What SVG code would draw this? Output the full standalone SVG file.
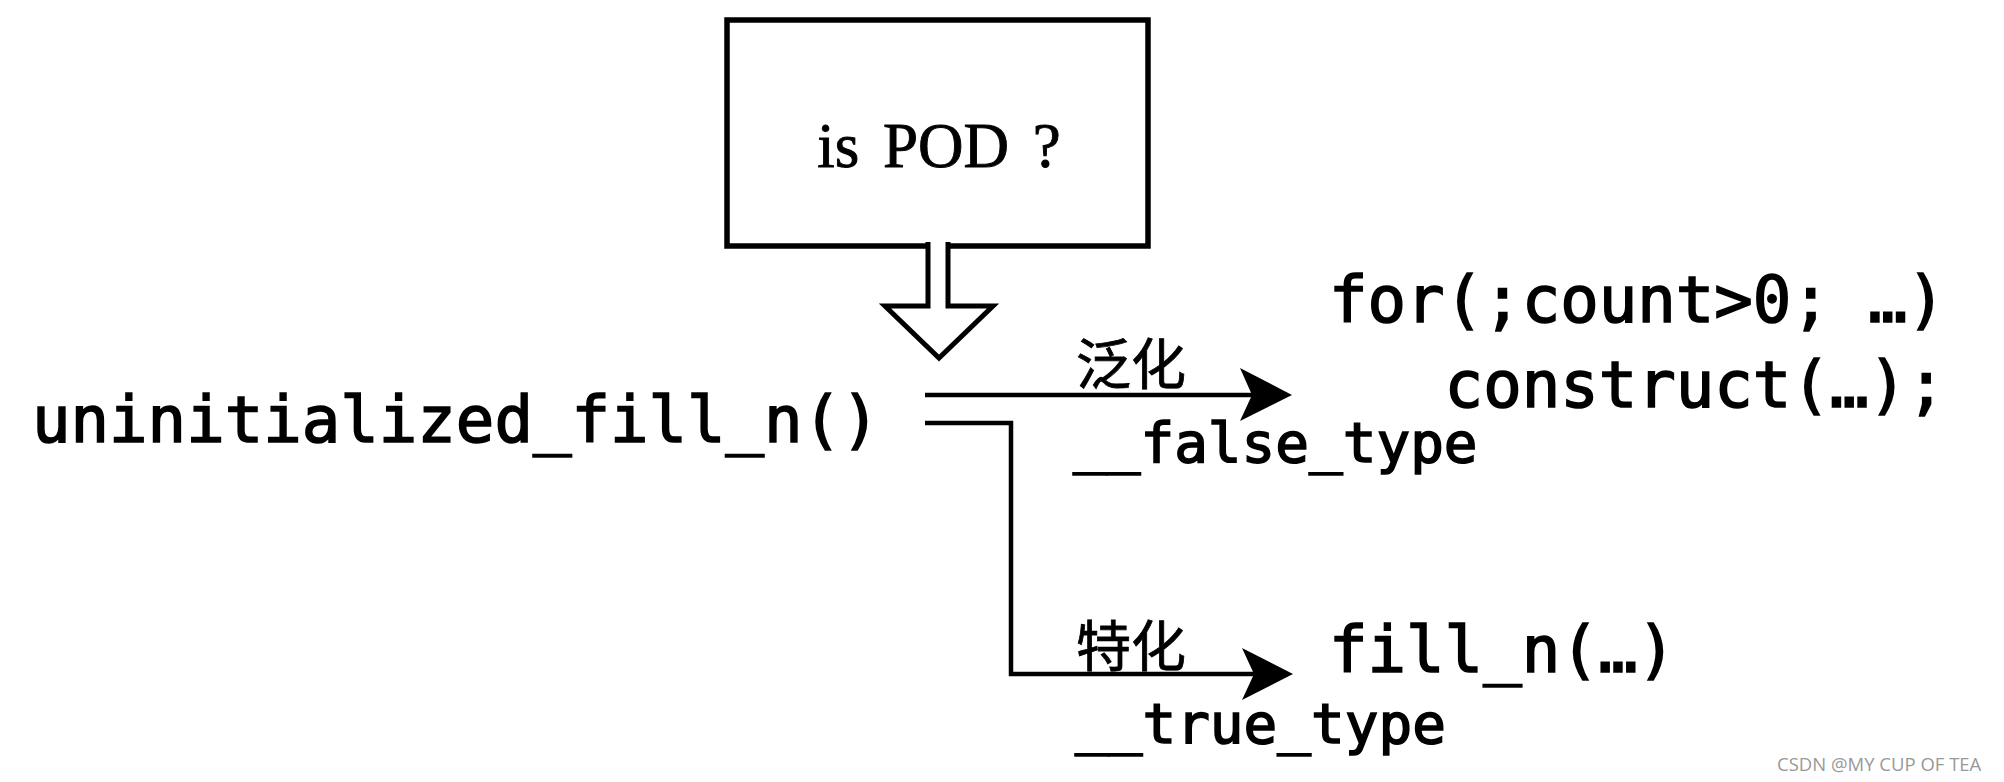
<svg xmlns="http://www.w3.org/2000/svg" width="2004" height="782" viewBox="0 0 2004 782">
<style>
.mono{font-family:"DejaVu Sans Mono","Liberation Mono",monospace;fill:#000;stroke:#000;stroke-width:1.6}
.big{font-size:64px}
.lbl{font-size:56px}
.cjk{font-family:"Noto Sans CJK SC","Noto Sans CJK JP",sans-serif;font-size:55px;fill:#000;stroke:#000;stroke-width:0.8}
.line{fill:none;stroke:#000;stroke-width:4.5}
.head{fill:#000;stroke:none}
</style>
<rect width="2004" height="782" fill="#fff"/>
<g id="pod-box">
<rect x="727" y="20" width="421" height="226" fill="#fff" stroke="#000" stroke-width="5.5"/>
<text x="939" y="167" text-anchor="middle" font-family="Liberation Serif,serif" font-size="63" word-spacing="8" fill="#000" stroke="#000" stroke-width="0.9">is POD ?</text>
</g>
<g id="hollow-arrow">
<path d="M928,242 V306 H885 L939,358 L993,306 H948 V242" fill="#fff" stroke="#000" stroke-width="5" stroke-linejoin="miter"/>
</g>
<g id="func">
<text class="mono big" x="32" y="442">uninitialized_fill_n()</text>
</g>
<g id="connectors">
<path class="line" d="M925,395 H1252"/>
<polygon class="head" points="1240,368 1292,395 1240,421 1252,395"/>
<path class="line" d="M925,423 H1011 V674 H1254"/>
<polygon class="head" points="1242,648 1293,674 1242,700 1254,674"/>
</g>
<g id="label-false">
<text class="cjk" x="1076" y="384">泛化</text>
<text class="mono lbl" x="1073" y="462">__false_type</text>
</g>
<g id="label-true">
<text class="cjk" x="1076" y="666">特化</text>
<text class="mono lbl" x="1075" y="743">__true_type</text>
</g>
<g id="generic">
<text class="mono big" x="1329" y="322">for(;count&gt;0; …)</text>
<text class="mono big" x="1329" y="407" xml:space="preserve">   construct(…);</text>
</g>
<g id="special">
<text class="mono big" x="1329" y="672">fill_n(…)</text>
</g>
<text x="1777" y="771" font-family="Open Sans,sans-serif" font-size="18.5" fill="#999">CSDN @MY CUP OF TEA</text>
</svg>
